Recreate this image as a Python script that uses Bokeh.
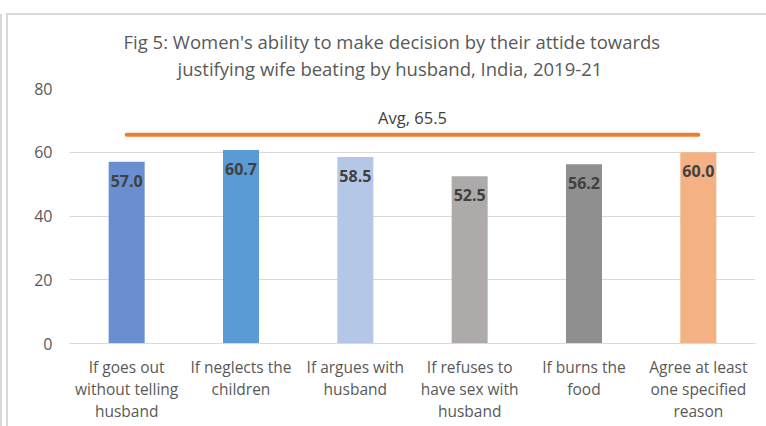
from bokeh.plotting import figure
from bokeh.models import ColumnDataSource, Title, FixedTicker
from bokeh.transform import dodge
from bokeh.core.properties import value
from bokeh.embed import file_html
from bokeh.resources import INLINE

categories = [
    "If goes out\nwithout telling\nhusband",
    "If neglects the\nchildren",
    "If argues with\nhusband",
    "If refuses to\nhave sex with\nhusband",
    "If burns the\nfood",
    "Agree at least\none specified\nreason",
]
values = [57.0, 60.7, 58.5, 52.5, 56.2, 60.0]
labels = ["57.0", "60.7", "58.5", "52.5", "56.2", "60.0"]
colors = ["#6a8fd0", "#5b9bd5", "#b4c7e7", "#aeaaaa", "#8f8f8f", "#f4b183"]
avg_value = 65.5
avg_label = "Avg, 65.5"
y_ticks = [0, 20, 40, 60, 80]
title_lines = [
    "Fig 5: Women's ability to make decision by their attide towards",
    "justifying wife beating by husband, India, 2019-21",
]

FONT = "Open Sans"
GREY = "#595959"
BORDER = "#d9d9d9"

p = figure(
    x_range=categories, y_range=(0, 80),
    width=766, height=426,
    output_backend="svg", toolbar_location=None,
    min_border_left=69, min_border_right=11,
    min_border_top=88, min_border_bottom=83,
)
p.title = None

# outer chart-area border (left and top edges only are visible in the crop)
p.styles = {
    "background": (
        f"linear-gradient({BORDER},{BORDER}) 6px 13px / 2px 100% no-repeat, "
        f"linear-gradient({BORDER},{BORDER}) 6px 13px / 100% 2px no-repeat, "
        f"linear-gradient({BORDER},{BORDER}) 0px 14px / 2px 100% no-repeat, "
        "white"
    )
}

spacer = Title(text=" ", text_font=FONT, text_font_size="1px", standoff=5)
t2 = Title(text=title_lines[1], align="left", text_font=FONT,
           text_font_size="18.5px", text_font_style="normal",
           text_color=GREY, offset=108, standoff=0, vertical_align="bottom",
           text_line_height=0.9)
t1 = Title(text=title_lines[0], align="left", text_font=FONT,
           text_font_size="18.5px", text_font_style="normal",
           text_color=GREY, offset=54, standoff=0, vertical_align="bottom")
p.add_layout(spacer, "above")
p.add_layout(t2, "above")
p.add_layout(t1, "above")

src = ColumnDataSource(dict(x=categories, top=values, lab=labels, color=colors))
p.vbar(x="x", top="top", width=0.315, fill_color="color", line_color=None, source=src)

p.text(x="x", y="top", text="lab", source=src, y_offset=19,
       text_align="center", text_baseline="middle",
       text_font=value(FONT), text_font_size="16px", text_font_style="bold",
       text_color="#404040")

avg_src = ColumnDataSource(dict(x=[categories[0], categories[-1]], y=[avg_value, avg_value]))
p.line(x="x", y="y", source=avg_src, line_color="#ed7d31", line_width=4, line_cap="round")

lab_src = ColumnDataSource(dict(x=[categories[2]], y=[avg_value], t=[avg_label]))
p.text(x=dodge("x", 0.5, range=p.x_range), y="y", text="t", source=lab_src,
       y_offset=-17, text_align="center", text_baseline="middle",
       text_font=value(FONT), text_font_size="16.5px", text_color="#404040")

p.outline_line_color = None
p.background_fill_color = "white"
p.border_fill_alpha = 0

p.xgrid.grid_line_color = None
p.ygrid.grid_line_color = BORDER
p.ygrid.grid_line_width = 1

p.yaxis.ticker = FixedTicker(ticks=y_ticks)
p.yaxis.axis_line_color = None
p.yaxis.major_tick_line_color = None
p.yaxis.minor_tick_line_color = None
p.yaxis.major_tick_out = 0
p.yaxis.major_tick_in = 0
p.yaxis.major_label_standoff = 17
p.yaxis.major_label_text_font = FONT
p.yaxis.major_label_text_font_size = "16px"
p.yaxis.major_label_text_color = GREY

p.xaxis.axis_line_color = BORDER
p.xaxis.axis_line_width = 1
p.xaxis.major_tick_line_color = None
p.xaxis.major_tick_out = 0
p.xaxis.major_tick_in = 0
p.xaxis.major_label_standoff = 12
p.xaxis.major_label_text_font = FONT
p.xaxis.major_label_text_font_size = "15.5px"
p.xaxis.major_label_text_color = GREY
p.xaxis.major_label_text_line_height = 1.0

open("out.html", "w").write(file_html(p, INLINE))
